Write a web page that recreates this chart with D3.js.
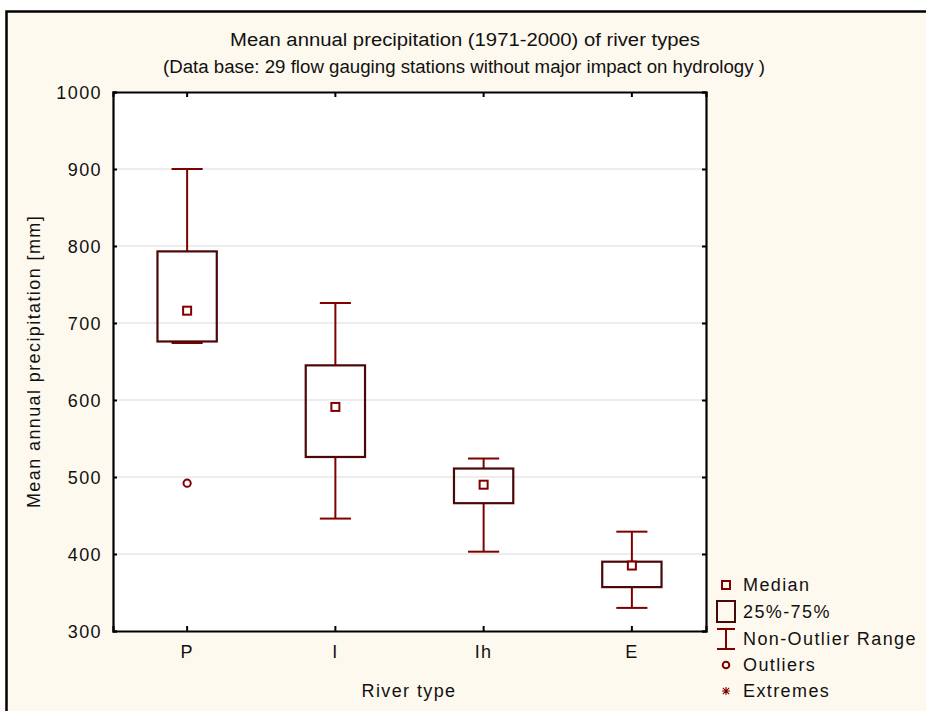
<!DOCTYPE html>
<html>
<head>
<meta charset="utf-8">
<script src="https://d3js.org/d3.v7.min.js"></script>
<style>
  html, body { margin: 0; background: #ffffff; overflow: hidden; }
  svg { display: block; }
  text { font-family: "Liberation Sans", Arial, sans-serif; fill: #111; }
</style>
</head>
<body>
<script>
// values
const categories = ["P", "I", "Ih", "E"];
const minVals    = [674, 446, 403, 330];
const q1Vals     = [676, 526, 466, 357];
const medianVals = [716, 591, 490, 385];
const q3Vals     = [793, 645, 511, 390];
const maxVals    = [900, 726, 524, 429];
const outlierCats   = ["P"];
const outlierValues = [492];
const yTicks = [300, 400, 500, 600, 700, 800, 900, 1000];
const legendLabels = ["Median", "25%-75%", "Non-Outlier Range", "Outliers", "Extremes"];

const width = 926, height = 711;
const plot = { left: 113, top: 92, right: 706, bottom: 631 };

const dark = "#800000", boxCol = "#4a0808";
const ls = 1.4; // letter spacing for the small texts

const svg = d3.select("body").append("svg")
  .attr("width", width)
  .attr("height", height);

// cream panel, only its top and left edges are inside the picture
svg.append("rect")
  .attr("x", 6.5).attr("y", 11.5)
  .attr("width", width).attr("height", height)
  .attr("fill", "#fef9ee");
svg.append("path")
  .attr("d", `M6.5,${height}V11.5H${width}`)
  .attr("fill", "none")
  .attr("stroke", "#000").attr("stroke-width", 2.5);

const x = d3.scaleBand()
  .domain(categories)
  .range([plot.left, plot.right]);

const y = d3.scaleLinear()
  .domain([300, 1000])
  .range([plot.bottom, plot.top]);

// plot background
svg.append("rect")
  .attr("x", plot.left).attr("y", plot.top)
  .attr("width", plot.right - plot.left)
  .attr("height", plot.bottom - plot.top)
  .attr("fill", "#fff");

// grid
svg.append("g").selectAll("line")
  .data(yTicks.slice(1, -1))
  .enter().append("line")
  .attr("x1", plot.left).attr("x2", plot.right)
  .attr("y1", d => y(d)).attr("y2", d => y(d))
  .attr("stroke", "#dcdcdc").attr("stroke-width", 1.2);

// axes, ticks inward
const leftAx = svg.append("g")
  .attr("transform", `translate(${plot.left},0)`)
  .call(d3.axisLeft(y).tickValues(yTicks).tickSize(-4).tickPadding(11).tickFormat(d3.format("d")));
const rightAx = svg.append("g")
  .attr("transform", `translate(${plot.right},0)`)
  .call(d3.axisRight(y).tickValues(yTicks).tickSize(-4).tickFormat(""));
const bottomAx = svg.append("g")
  .attr("transform", `translate(0,${plot.bottom})`)
  .call(d3.axisBottom(x).tickSize(-5).tickPadding(14));
const topAx = svg.append("g")
  .attr("transform", `translate(0,${plot.top})`)
  .call(d3.axisTop(x).tickSize(-5).tickFormat(""));

[leftAx, rightAx, bottomAx, topAx].forEach(g => {
  g.select(".domain").attr("stroke", "#000").attr("stroke-width", 2.2);
  g.selectAll(".tick line").attr("stroke", "#000").attr("stroke-width", 2);
  g.selectAll(".tick text")
    .attr("font-family", "Liberation Sans, Arial, sans-serif")
    .attr("font-size", 18).attr("letter-spacing", ls).attr("fill", "#111");
});
leftAx.selectAll(".tick text").attr("dy", "0.35em");

// boxes
const bw = x.bandwidth() * 0.4;
const cw = x.bandwidth() * 0.21;
const boxes = categories.map((c, i) => ({
  cat: c, min: minVals[i], q1: q1Vals[i], med: medianVals[i], q3: q3Vals[i], max: maxVals[i]
}));

const g = svg.append("g");
boxes.forEach(d => {
  const cx = x(d.cat) + x.bandwidth() / 2;
  g.append("line")
    .attr("x1", cx).attr("x2", cx).attr("y1", y(d.q3)).attr("y2", y(d.max))
    .attr("stroke", dark).attr("stroke-width", 2);
  g.append("line")
    .attr("x1", cx).attr("x2", cx).attr("y1", y(d.q1)).attr("y2", y(d.min))
    .attr("stroke", dark).attr("stroke-width", 2);
  [d.min, d.max].forEach(v => {
    g.append("line")
      .attr("x1", cx - cw / 2).attr("x2", cx + cw / 2)
      .attr("y1", y(v)).attr("y2", y(v))
      .attr("stroke", dark).attr("stroke-width", 2);
  });
  g.append("rect")
    .attr("x", cx - bw / 2).attr("y", y(d.q3))
    .attr("width", bw).attr("height", y(d.q1) - y(d.q3))
    .attr("fill", "none").attr("stroke", boxCol).attr("stroke-width", 2.2);
  g.append("rect")
    .attr("x", cx - 4).attr("y", y(d.med) - 4)
    .attr("width", 8).attr("height", 8)
    .attr("fill", "#fff").attr("stroke", dark).attr("stroke-width", 2);
});

outlierCats.forEach((c, i) => {
  g.append("circle")
    .attr("cx", x(c) + x.bandwidth() / 2).attr("cy", y(outlierValues[i]))
    .attr("r", 3.6)
    .attr("fill", "#fff").attr("stroke", dark).attr("stroke-width", 2);
});

// titles
const titleFont = "Lato, 'Open Sans', sans-serif";
svg.append("text")
  .attr("x", 465).attr("y", 46)
  .attr("text-anchor", "middle")
  .attr("font-family", titleFont).attr("font-size", 18)
  .attr("textLength", 470).attr("lengthAdjust", "spacingAndGlyphs")
  .text("Mean annual precipitation (1971-2000) of river types");
svg.append("text")
  .attr("x", 464).attr("y", 73)
  .attr("text-anchor", "middle")
  .attr("font-family", titleFont).attr("font-size", 18)
  .attr("textLength", 602).attr("lengthAdjust", "spacingAndGlyphs")
  .text("(Data base: 29 flow gauging stations without major impact on hydrology )");

svg.append("text")
  .attr("transform", `translate(40,${(plot.top + plot.bottom) / 2}) rotate(-90)`)
  .attr("text-anchor", "middle")
  .attr("font-size", 18).attr("letter-spacing", ls)
  .text("Mean annual precipitation [mm]");

svg.append("text")
  .attr("x", 409).attr("y", 697)
  .attr("text-anchor", "middle")
  .attr("font-size", 18).attr("letter-spacing", ls)
  .text("River type");

// legend
const lx = 726, ltx = 743;
const ly = [585, 612, 639, 665, 691];
const lg = svg.append("g");
lg.append("rect").attr("x", lx - 4).attr("y", ly[0] - 4).attr("width", 8).attr("height", 8)
  .attr("fill", "none").attr("stroke", dark).attr("stroke-width", 2);
lg.append("rect").attr("x", lx - 9).attr("y", ly[1] - 11).attr("width", 18).attr("height", 21)
  .attr("fill", "none").attr("stroke", boxCol).attr("stroke-width", 2);
lg.append("path")
  .attr("d", `M${lx - 9},${ly[2] - 10}H${lx + 9}M${lx},${ly[2] - 10}V${ly[2] + 10}M${lx - 9},${ly[2] + 10}H${lx + 9}`)
  .attr("fill", "none").attr("stroke", dark).attr("stroke-width", 2);
lg.append("circle").attr("cx", lx).attr("cy", ly[3]).attr("r", 3.3)
  .attr("fill", "none").attr("stroke", dark).attr("stroke-width", 2);
const a = 4;
lg.append("path")
  .attr("d", `M${lx - a},${ly[4]}H${lx + a}M${lx},${ly[4] - a}V${ly[4] + a}` +
             `M${lx - a * 0.8},${ly[4] - a * 0.8}L${lx + a * 0.8},${ly[4] + a * 0.8}` +
             `M${lx - a * 0.8},${ly[4] + a * 0.8}L${lx + a * 0.8},${ly[4] - a * 0.8}`)
  .attr("fill", "none").attr("stroke", dark).attr("stroke-width", 1.1);
lg.selectAll("text.lab")
  .data(legendLabels)
  .enter().append("text")
  .attr("class", "lab")
  .attr("x", ltx).attr("y", (d, i) => ly[i])
  .attr("dy", "0.35em")
  .attr("font-size", 18).attr("letter-spacing", ls)
  .text(d => d);
</script>
</body>
</html>
